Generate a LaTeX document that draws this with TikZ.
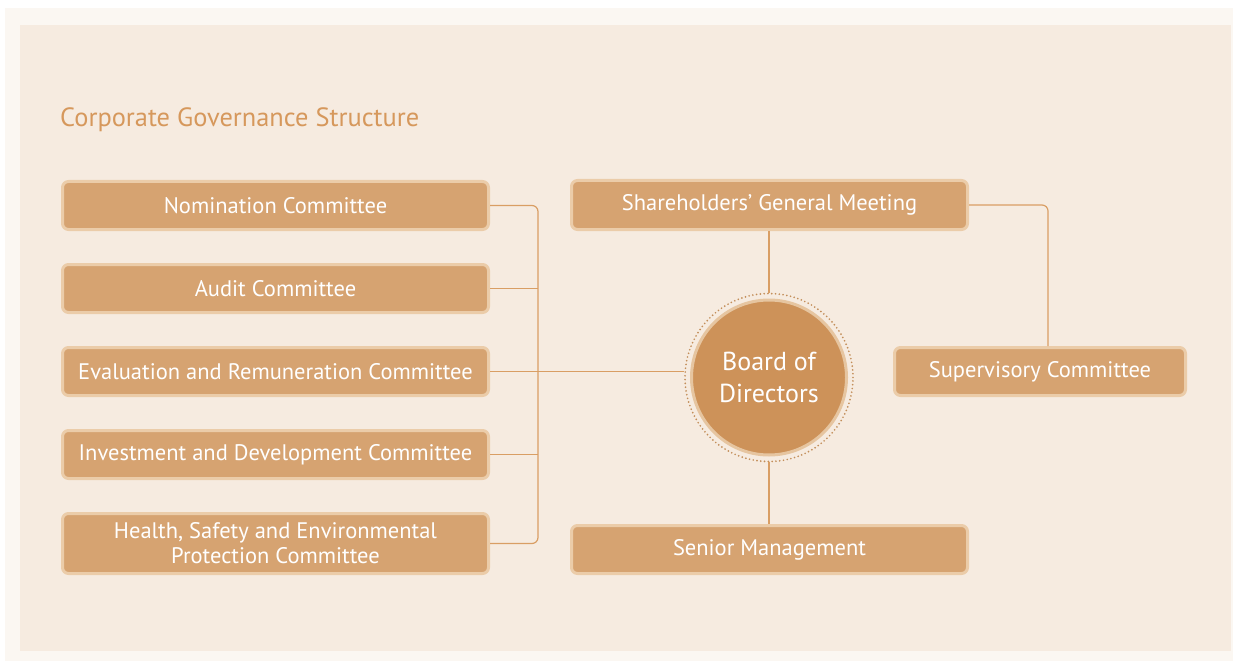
\documentclass[tikz,border=0pt]{standalone}
\usepackage{fontspec}
\setmainfont{PT Sans}
\usetikzlibrary{positioning}
\definecolor{frame}{HTML}{FBF7F2}
\definecolor{panel}{HTML}{F6EBE0}
\definecolor{boxfill}{HTML}{D6A371}
\definecolor{boxrim}{HTML}{EBCCA9}
\definecolor{discfill}{HTML}{CD9259}
\definecolor{discrim}{HTML}{E6C5A0}
\definecolor{linkc}{HTML}{D99E64}
\definecolor{titlec}{HTML}{D6985C}

\begin{document}
\begin{tikzpicture}[x=1pt,y=1pt,
    unit/.style={draw=boxrim,line width=3pt,fill=boxfill,rounded corners=6pt,
      text=white,font=\fontsize{22.5}{25}\selectfont,align=center,
      minimum width=426pt,minimum height=48pt,inner sep=0pt},
    link/.style={draw=linkc,line width=1.2pt,rounded corners=6pt}]
    \useasboundingbox (0,0) rectangle (1233,-663);
    \fill[frame] (5,-8) rectangle (1233,-661);
    \fill[panel] (20,-25) rectangle (1231,-651);
    \node[anchor=base west,text=titlec,font=\fontsize{26.4}{30}\selectfont,inner sep=0pt]
      (title) at (60,-127) {Corporate Governance Structure};
    % committees
    \node[unit] (nom) at (275.5,-205.5) {Nomination Committee};
    \node[unit] (aud) [below=32pt of nom] {Audit Committee};
    \node[unit] (eval) [below=32pt of aud] {Evaluation and Remuneration Committee};
    \node[unit] (inv) [below=32pt of eval] {Investment and Development Committee};
    \node[unit,minimum height=60pt] (hse) [below=32pt of inv]
      {Health, Safety and Environmental\\Protection Committee};
    % centre
    \node[circle,draw=linkc!90!black,line width=1.9pt,dash pattern=on 0pt off 3.8pt,line cap=round,
      minimum size=168pt] (ring) at (769,-377.5) {};
    \node[circle,draw=discrim,line width=3pt,fill=discfill,text=white,align=center,
      font=\fontsize{26}{32}\selectfont,minimum size=155pt] (bod) at (ring) {Board of\\Directors};
    \node[unit,minimum width=396pt,minimum height=49pt] (sgm) at (769.5,-205)
      {Shareholders' General Meeting};
    \node[unit,minimum width=396pt] (sen) at (769.5,-549.5) {Senior Management};
    \node[unit,minimum width=291pt] (sup) at (1040,-371.5) {Supervisory Committee};
    \coordinate (bus) at (538,-372);
    % connectors
    \draw[link] (nom.east) -| (bus) |- (hse.east);
    \draw[link] (aud.east) -- (aud.east -| bus);
    \draw[link] (inv.east) -- (inv.east -| bus);
    \draw[link] (eval.east) -- (eval.east -| ring.west);
    \draw[link] (sgm.south -| ring) -- (ring.north);
    \draw[link] (ring.south) -- (sen.north -| ring);
    \draw[link] (sgm.east) -| ([xshift=8pt]sup.north);
\end{tikzpicture}
\end{document}
